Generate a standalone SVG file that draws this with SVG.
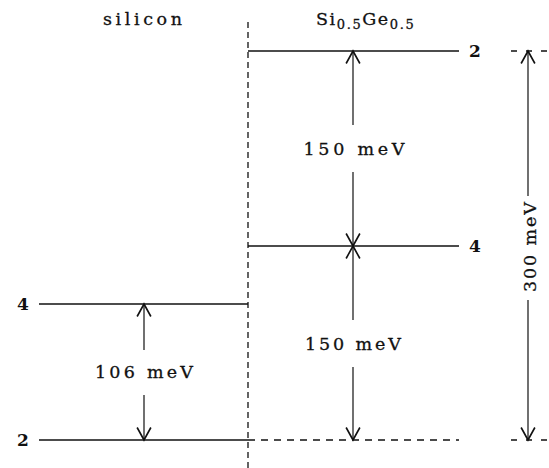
<svg xmlns="http://www.w3.org/2000/svg" width="549" height="468" viewBox="0 0 549 468">
<style>
.lvl{stroke:#111;stroke-width:1.3;fill:none}
.dash{stroke:#111;stroke-width:1.3;fill:none;stroke-dasharray:6 4}
.hdash{stroke:#111;stroke-width:1.3;fill:none;stroke-dasharray:7 6}
.arr{stroke:#111;stroke-width:1.2;fill:none}
.t{font-family:"DejaVu Serif","Liberation Serif",serif;font-size:17.5px;fill:#111;stroke:#111;stroke-width:0.3}
.n{font-family:"DejaVu Serif","Liberation Serif",serif;font-size:17px;font-weight:bold;fill:#111}
</style>
<defs>
<marker id="ah" markerUnits="userSpaceOnUse" markerWidth="20" markerHeight="20" viewBox="-12 -8 14 16" refX="0" refY="0" orient="auto-start-reverse">
<path d="M-10,-5.5 L0,0 L-10,5.5" fill="none" stroke="#111" stroke-width="1.3"/>
</marker>
</defs>
<rect width="549" height="468" fill="#fff"/>
<g id="interface">
<line class="dash" x1="248" y1="22" x2="248" y2="468"/>
</g>
<g id="titles">
<text class="t" x="142.5" y="25" text-anchor="middle" textLength="79" lengthAdjust="spacing">silicon</text>
<text class="t" x="316" y="25" letter-spacing="1.6">Si<tspan font-size="13" dy="3.5">0.5</tspan><tspan dy="-3.5">Ge</tspan><tspan font-size="13" dy="3.5">0.5</tspan></text>
</g>
<g id="sige-level-2">
<line class="lvl" x1="248" y1="51" x2="459" y2="51"/>
<text class="n" x="469" y="57">2</text>
</g>
<g id="sige-level-4">
<line class="lvl" x1="248" y1="246" x2="459" y2="246"/>
<text class="n" x="469" y="252">4</text>
</g>
<g id="si-level-4">
<line class="lvl" x1="39" y1="304" x2="248" y2="304"/>
<text class="n" x="17" y="310">4</text>
</g>
<g id="si-level-2">
<line class="lvl" x1="39" y1="440" x2="248" y2="440"/>
<text class="n" x="17" y="446">2</text>
</g>
<g id="reference-lines">
<line class="hdash" x1="248" y1="440" x2="459" y2="440"/>
<line class="hdash" x1="511" y1="51" x2="549" y2="51" style="stroke-dasharray:6 9"/>
<line class="hdash" x1="511" y1="440" x2="549" y2="440" style="stroke-dasharray:6 9"/>
</g>
<g id="connectors">
<line class="arr" x1="144" y1="304" x2="144" y2="350" marker-start="url(#ah)"/>
<line class="arr" x1="144" y1="395" x2="144" y2="440" marker-end="url(#ah)"/>
<line class="arr" x1="353" y1="51" x2="353" y2="125" marker-start="url(#ah)"/>
<line class="arr" x1="353" y1="172" x2="353" y2="246" marker-end="url(#ah)"/>
<line class="arr" x1="353" y1="246" x2="353" y2="320" marker-start="url(#ah)"/>
<line class="arr" x1="353" y1="367" x2="353" y2="440" marker-end="url(#ah)"/>
<line class="arr" x1="528" y1="51" x2="528" y2="196" marker-start="url(#ah)"/>
<line class="arr" x1="528" y1="300" x2="528" y2="440" marker-end="url(#ah)"/>
</g>
<g id="labels">
<text class="t" x="144" y="378" text-anchor="middle" textLength="98" lengthAdjust="spacing">106 meV</text>
<text class="t" x="354" y="155" text-anchor="middle" textLength="101" lengthAdjust="spacing">150 meV</text>
<text class="t" x="353" y="350" text-anchor="middle" textLength="96" lengthAdjust="spacing">150 meV</text>
<text class="t" transform="translate(536,247) rotate(-90)" text-anchor="middle" textLength="90" lengthAdjust="spacing">300 meV</text>
</g>
</svg>
